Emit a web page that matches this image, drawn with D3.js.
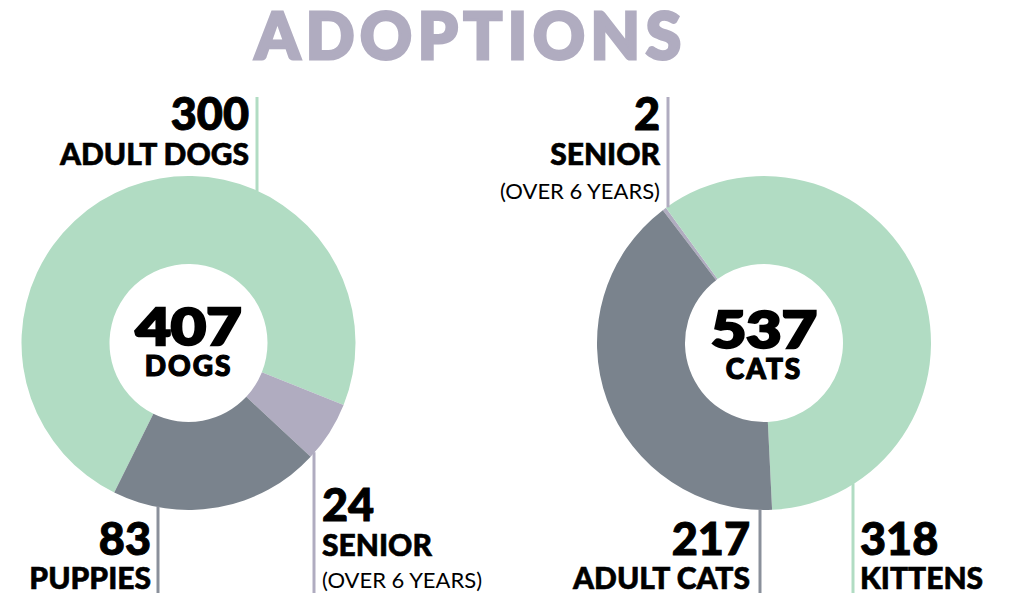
<!DOCTYPE html>
<html>
<head>
    <meta charset="UTF-8">
    <title>Adoptions</title>
    <style>
        body { margin: 0; background: #fff; }
        svg text { font-family: Lato, "Noto Sans", sans-serif; }
    </style>
</head>
<body>
    <svg></svg>
    <script src="https://d3js.org/d3.v7.min.js"></script>
    <script>
        // data
        const dogLabels = ["ADULT DOGS", "SENIOR", "PUPPIES"];
        const dogValues = [300, 24, 83];
        const catLabels = ["SENIOR", "KITTENS", "ADULT CATS"];
        const catValues = [2, 318, 217];
        const dogTotalLabel = "DOGS";
        const catTotalLabel = "CATS";
        const subNote = "(OVER 6 YEARS)";

        let width = 1019, height = 593;
        let svg = d3.select("svg").attr("width", width).attr("height", height);

        const green = "#b1dcc3", gray = "#7a838d", lav = "#b0acc0";
        const outerR = 167, innerR = 79;

        // title, stroked to get closer to the heavy original face
        svg.append("text")
            .attr("x", 468).attr("y", 59)
            .attr("text-anchor", "middle")
            .attr("font-size", 64).attr("font-weight", 900)
            .attr("fill", lav)
            .attr("stroke", lav).attr("stroke-width", 3)
            .attr("textLength", 426).attr("lengthAdjust", "spacing")
            .text("ADOPTIONS");

        const rad = d => d * Math.PI / 180;

        // label layout per slice: line x, side, text anchor x, baselines
        const charts = [
            {
                labels: dogLabels, values: dogValues, total: dogTotalLabel,
                cx: 188.5, cy: 343, start: -153.6,
                colors: [green, lav, gray], totalY: [345, 376],
                layout: [
                    { lx: 257, up: true, tx: 249, anchor: "end", y: [130, 165] },
                    { lx: 314, up: false, tx: 322, anchor: "start", y: [521, 556, 588], sub: true },
                    { lx: 158, up: false, tx: 151, anchor: "end", y: [555, 589] }
                ]
            },
            {
                labels: catLabels, values: catValues, total: catTotalLabel,
                cx: 764, cy: 343, start: -37.3,
                colors: [lav, green, gray], totalY: [348, 379],
                layout: [
                    { lx: 668, up: true, tx: 660, anchor: "end", y: [130, 165, 199], sub: true },
                    { lx: 853, up: false, tx: 860, anchor: "start", y: [555, 589] },
                    { lx: 760, up: false, tx: 750, anchor: "end", y: [555, 589] }
                ]
            }
        ];

        charts.forEach(c => {
            let g = svg.append("g").attr("transform", "translate(" + c.cx + "," + c.cy + ")");

            let pie = d3.pie().sort(null)
                .startAngle(rad(c.start))
                .endAngle(rad(c.start) + 2 * Math.PI);
            let arc = d3.arc().innerRadius(innerR).outerRadius(outerR);

            g.selectAll("path")
                .data(pie(c.values))
                .enter()
                .append("path")
                .attr("d", arc)
                .attr("fill", (d, i) => c.colors[i]);

            // center total
            g.append("text")
                .attr("y", c.totalY[0] - c.cy)
                .attr("text-anchor", "middle")
                .attr("font-size", 51).attr("font-weight", 900)
                .attr("stroke", "#000").attr("stroke-width", 2.5)
                .attr("textLength", 106).attr("lengthAdjust", "spacingAndGlyphs")
                .text(d3.sum(c.values));
            g.append("text")
                .attr("y", c.totalY[1] - c.cy)
                .attr("text-anchor", "middle")
                .attr("font-size", 28).attr("font-weight", 900)
                .attr("stroke", "#000").attr("stroke-width", 1.2)
                .attr("letter-spacing", 2)
                .text(c.total);

            // callouts
            c.layout.forEach((l, i) => {
                let dx = l.lx - c.cx;
                let edge = Math.sqrt(outerR * outerR - dx * dx);
                let y1 = l.up ? 97 : c.cy + edge - 1;
                let y2 = l.up ? c.cy - edge + 1 : height;
                svg.append("line")
                    .attr("x1", l.lx).attr("x2", l.lx)
                    .attr("y1", y1).attr("y2", y2)
                    .attr("stroke", c.colors[i] == green ? green : (c.colors[i] == lav ? lav : "#8a909b"))
                    .attr("stroke-width", 3);

                svg.append("text")
                    .attr("x", l.tx).attr("y", l.y[0])
                    .attr("text-anchor", l.anchor)
                    .attr("font-size", 45).attr("font-weight", 900)
                    .attr("stroke", "#000").attr("stroke-width", 1)
                    .text(c.values[i]);
                svg.append("text")
                    .attr("x", l.tx).attr("y", l.y[1])
                    .attr("text-anchor", l.anchor)
                    .attr("font-size", 30).attr("font-weight", 900)
                    .attr("stroke", "#000").attr("stroke-width", 0.6)
                    .text(c.labels[i]);
                if (l.sub) {
                    svg.append("text")
                        .attr("x", l.tx).attr("y", l.y[2])
                        .attr("text-anchor", l.anchor)
                        .attr("font-size", 22).attr("font-weight", 400)
                        .text(subNote);
                }
            });
        });
    </script>
</body>
</html>
